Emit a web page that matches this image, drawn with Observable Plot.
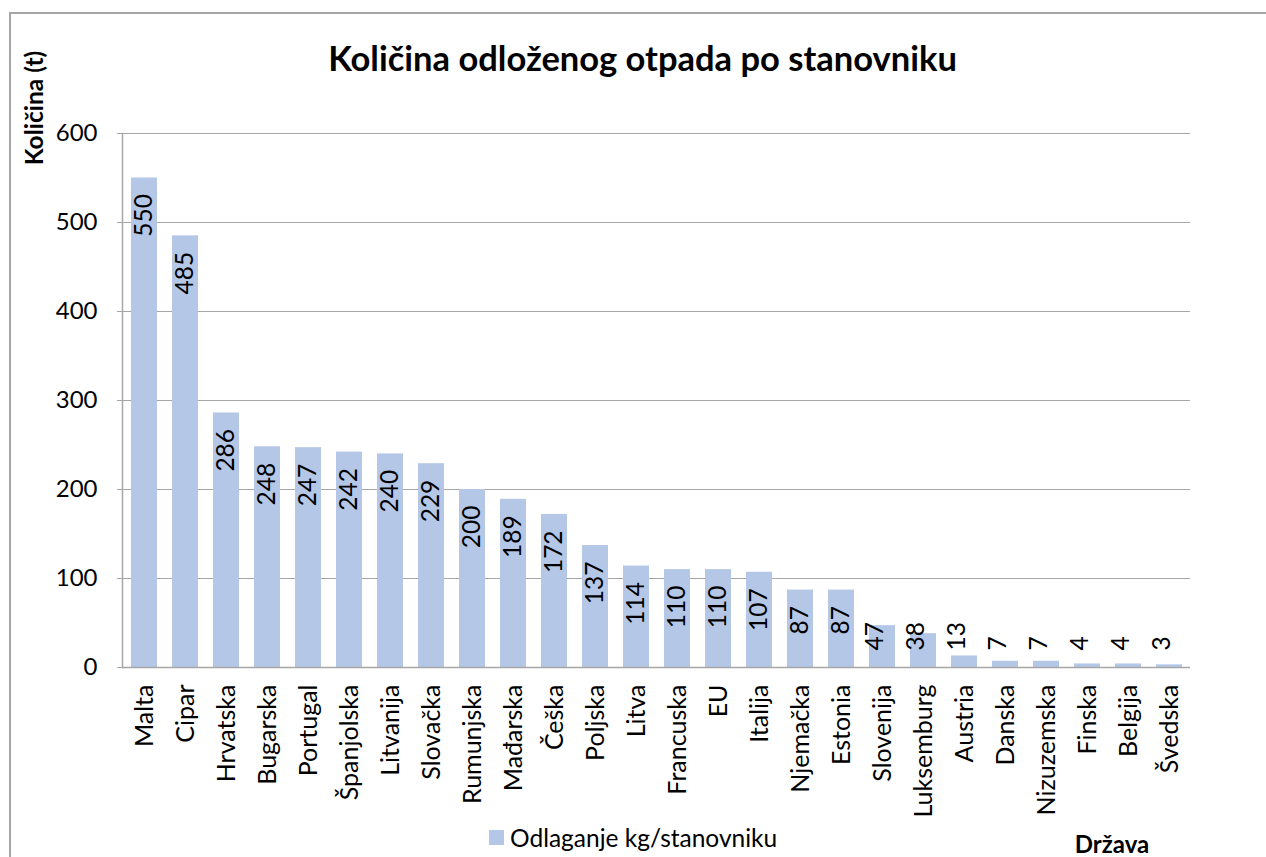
<!DOCTYPE html>
<html>
<head>
<meta charset="utf-8">
<script src="https://cdn.jsdelivr.net/npm/d3@7"></script>
<script src="https://cdn.jsdelivr.net/npm/@observablehq/plot@0.6"></script>
<style>
  html, body { margin: 0; padding: 0; background: #fff; }
  #wrap { position: relative; width: 1266px; height: 857px; overflow: hidden; font-family: Lato, "Open Sans", sans-serif; color: #000; }
  #wrap svg.chart { position: absolute; left: 0; top: 0; }
  .border { position: absolute; left: 9px; top: 12px; width: 1300px; height: 900px; border-top: 2px solid #a6a6a6; border-left: 2px solid #a6a6a6; }
  .title { position: absolute; left: 0; width: 1285px; top: 37px; text-align: center; font-weight: 700; font-size: 34.5px; line-height: 1.2; }
  .ylab { position: absolute; left: 33px; top: 108px; transform: translate(-50%, -50%) rotate(-90deg); font-weight: 700; font-size: 24.5px; white-space: nowrap; }
  .xlab { position: absolute; left: 1112px; top: 829px; transform: translateX(-50%); font-weight: 700; font-size: 24px; white-space: nowrap; }
  .legend { position: absolute; left: 489px; top: 823px; display: flex; align-items: center; font-size: 24.5px; white-space: nowrap; }
  .legend .sw { width: 15px; height: 15px; background: #B4C7E7; margin-right: 6px; }
</style>
</head>
<body>
<div id="wrap">
  <div class="border"></div>
</div>
<script>
const countries = ["Malta","Cipar","Hrvatska","Bugarska","Portugal","Španjolska","Litvanija","Slovačka","Rumunjska","Mađarska","Češka","Poljska","Litva","Francuska","EU","Italija","Njemačka","Estonia","Slovenija","Luksemburg","Austria","Danska","Nizuzemska","Finska","Belgija","Švedska"];
const values = [550,485,286,248,247,242,240,229,200,189,172,137,114,110,110,107,87,87,47,38,13,7,7,4,4,3];
const yTicks = [0,100,200,300,400,500,600];
const titleText = "Količina odloženog otpada po stanovniku";
const yLabel = "Količina (t)";
const xLabel = "Država";
const seriesName = "Odlaganje kg/stanovniku";
const barColor = "#B4C7E7";

const data = countries.map((c, i) => ({country: c, value: values[i]}));
const grid = "#a6a6a6";

const chart = Plot.plot({
  width: 1266,
  height: 857,
  marginLeft: 122,
  marginRight: 76,
  marginTop: 133,
  marginBottom: 190,
  style: {fontFamily: "Lato, 'Open Sans', sans-serif", fontSize: "24px", color: "#000", background: "transparent", overflow: "visible"},
  x: {domain: countries, paddingInner: 0.367, paddingOuter: 0.1835, label: null},
  y: {domain: [0, 600], label: null},
  marks: [
    Plot.gridY(yTicks, {stroke: grid, strokeOpacity: 1, strokeWidth: 1.2}),
    Plot.barY(data, {x: "country", y: "value", fill: barColor}),
    Plot.ruleY([0], {stroke: grid, strokeWidth: 1.5}),
    Plot.frame({anchor: "left", stroke: grid, strokeWidth: 1.5}),
    Plot.axisY(yTicks, {tickSize: 5, tickPadding: 20, stroke: grid, fill: "#000", fontSize: 24, label: null}),
    Plot.axisX({tickSize: 0, tickPadding: 17, tickRotate: -90, fill: "#000", fontSize: 25, label: null}),
    Plot.text(data.filter(d => d.value >= 60), {x: "country", y: "value", text: d => String(d.value), rotate: -90, textAnchor: "end", dy: 16, fontSize: 24.5, fill: "#000"}),
    Plot.text(data.filter(d => d.value < 60), {x: "country", frameAnchor: "bottom", text: d => String(d.value), rotate: -90, textAnchor: "start", dy: -17, fontSize: 24.5, fill: "#000"})
  ]
});
chart.classList.add("chart");
const wrap = document.getElementById("wrap");
wrap.appendChild(chart);

const t = document.createElement("div"); t.className = "title"; t.textContent = titleText; wrap.appendChild(t);
const yl = document.createElement("div"); yl.className = "ylab"; yl.textContent = yLabel; wrap.appendChild(yl);
const xl = document.createElement("div"); xl.className = "xlab"; xl.textContent = xLabel; wrap.appendChild(xl);
const lg = document.createElement("div"); lg.className = "legend";
const sw = document.createElement("span"); sw.className = "sw"; lg.appendChild(sw);
const lt = document.createElement("span"); lt.textContent = seriesName; lg.appendChild(lt);
wrap.appendChild(lg);
</script>
</body>
</html>
